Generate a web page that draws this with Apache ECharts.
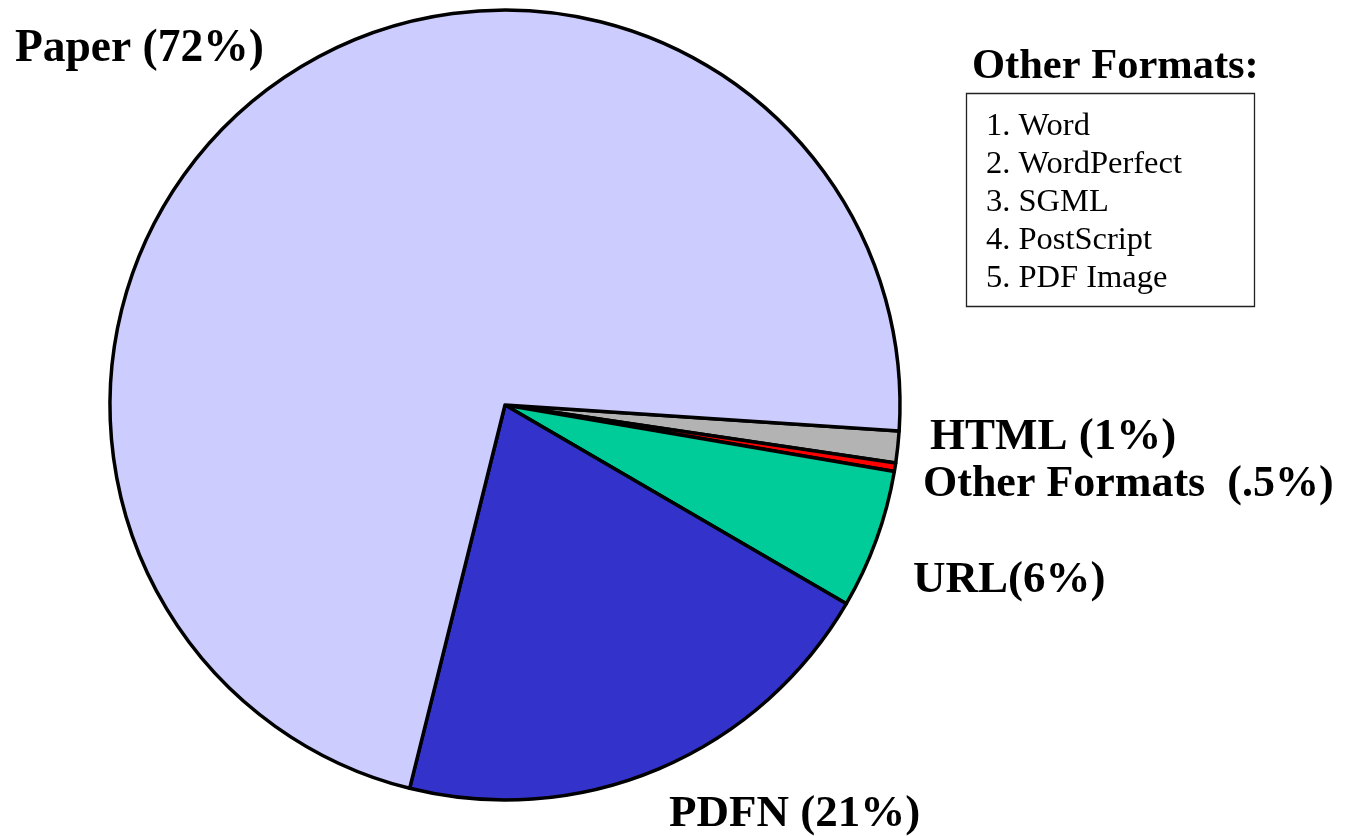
<!DOCTYPE html>
<html>
<head>
<meta charset="utf-8">
<script src="https://cdn.jsdelivr.net/npm/echarts@6/dist/echarts.min.js"></script>
<style>
html,body{margin:0;padding:0;background:#fff;}
#chart{width:1345px;height:836px;}
</style>
</head>
<body>
<div id="chart"></div>
<script>
// Slices in clockwise order starting just below the 3 o'clock position
const categories = ['HTML', 'Other Formats', 'URL', 'PDFN', 'Paper'];
const values = [1.3, 0.35, 5.7, 20.5, 72.2];
const sliceLabels = ['HTML (1%)', 'Other Formats  (.5%)', 'URL(6%)', 'PDFN (21%)', 'Paper (72%)'];
const colors = ['#B3B3B3', '#FF0000', '#00CC99', '#3333CC', '#CCCCFF'];
const legendTitle = 'Other Formats:';
const otherFormats = ['1. Word', '2. WordPerfect', '3. SGML', '4. PostScript', '5. PDF Image'];

const chart = echarts.init(document.getElementById('chart'), null, {renderer: 'canvas'});

const labelPos = [
  [930, 437, 45], [923, 485, 44], [913, 580, 45], [669, 814, 45], [15, 49, 45.5]
];

const graphics = [];
sliceLabels.forEach((t, i) => {
  graphics.push({
    type: 'text',
    x: labelPos[i][0], y: labelPos[i][1],
    style: {text: t, font: 'bold ' + labelPos[i][2] + 'px "Liberation Serif", "Times New Roman", serif', fill: '#000', align: 'left', verticalAlign: 'middle'}
  });
});
graphics.push({
  type: 'text', x: 972, y: 67,
  style: {text: legendTitle, font: 'bold 42.5px "Liberation Serif", "Times New Roman", serif', fill: '#000', align: 'left', verticalAlign: 'middle'}
});
graphics.push({
  type: 'rect', shape: {x: 966.5, y: 93.5, width: 288, height: 213},
  style: {fill: '#fff', stroke: '#222', lineWidth: 1.3}
});
otherFormats.forEach((t, i) => {
  graphics.push({
    type: 'text', x: 986, y: 126 + i * 38.2,
    style: {text: t, font: '32.5px "Liberation Serif", "Times New Roman", serif', fill: '#000', align: 'left', verticalAlign: 'middle'}
  });
});

chart.setOption({
  backgroundColor: '#fff',
  animation: false,
  series: [{
    type: 'pie',
    center: [505, 405],
    radius: 395,
    startAngle: -3.76,
    clockwise: true,
    minAngle: 0,
    avoidLabelOverlap: false,
    label: {show: false},
    labelLine: {show: false},
    itemStyle: {borderColor: '#000', borderWidth: 3.5},
    emphasis: {disabled: true},
    data: categories.map((c, i) => ({name: c, value: values[i], itemStyle: {color: colors[i]}}))
  }],
  graphic: graphics
});
</script>
</body>
</html>
